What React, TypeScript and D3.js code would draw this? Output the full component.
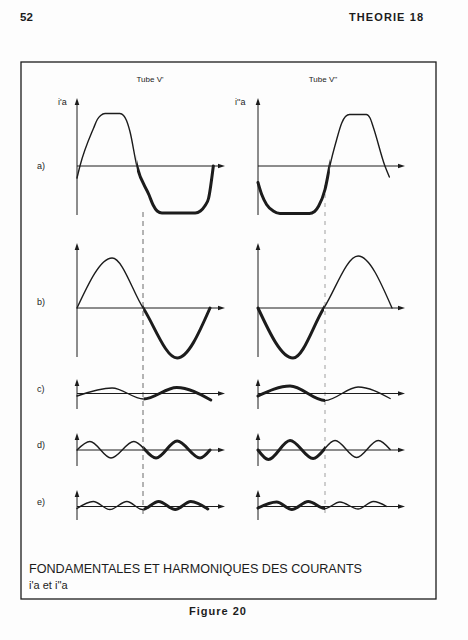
import React from 'react';
import * as d3 from 'd3';

type Pt = [number, number];

// ---- text ----
const pageNumber = '52';
const pageHeader = 'THEORIE 18';
const columnTitles = ["Tube V'", "Tube V''"];
const axisLabels = ["i'a", "i''a"];
const rowLabels = ['a)', 'b)', 'c)', 'd)', 'e)'];
const captionLine1 = 'FONDAMENTALES ET HARMONIQUES DES COURANTS';
const captionLine2 = "i'a et i''a";
const figureLabel = 'Figure 20';

// ---- data: [phase in degrees, current in relative units] ----
const leftA: Pt[] = [[0, -2.4], [8, 0], [45, 7.6], [55, 9.3], [64, 10.1], [76, 10.5], [116, 10.5], [126, 10.1], [134, 9.1], [143, 7.0], [162, 0], [195, -5.8], [206, -7.8], [217, -9.0], [230, -9.4], [320, -9.4], [334, -9.0], [346, -8.0], [356, -6.5], [369, 0]];
const rightA: Pt[] = [[0, -3.3], [10, -5.7], [23, -7.7], [41, -9.0], [59, -9.5], [138, -9.5], [152, -9.1], [163, -8.0], [180, -4.7], [193, 0], [211, 5.2], [225, 8.6], [235, 9.9], [246, 10.3], [291, 10.3], [301, 9.6], [310, 7.7], [341, 0], [353, -2.2]];
const leftB: Pt[] = [[0, 0], [95, 10], [179, 0], [271, -10], [360, 0]];
const rightB: Pt[] = [[0, 0], [94, -10], [177, 0], [269, 10.4], [360, 0]];
const leftC: Pt[] = [[0, -0.5], [95, 1.1], [180, -1.1], [270, 1.2], [362, -1.3]];
const rightC: Pt[] = [[0, -0.5], [86, 1.5], [180, -1.4], [269, 1.3], [355, -1.0]];
const leftD: Pt[] = [[0, 0], [35, 1.7], [92, -1.6], [154, 1.7], [214, -1.6], [271, 1.8], [333, -1.6], [360, 0]];
const rightD: Pt[] = [[0, 0], [28, -1.9], [86, 1.9], [148, -1.7], [207, 1.9], [265, -1.5], [323, 1.9], [355, 0.1]];
const leftE: Pt[] = [[0, -0.4], [44, 1.0], [89, -0.6], [135, 1.0], [177, -0.6], [221, 1.0], [266, -0.6], [308, 1.0], [354, -0.5]];
const rightE: Pt[] = [[0, -0.3], [50, 0.9], [91, -0.6], [135, 1.0], [180, -0.4], [220, 0.9], [269, -0.5], [310, 1.0], [346, 0]];

// phase where the trace changes from thin to thick (left) / thick to thin (right)
const leftSplit = [162, 179, 180, 180, 180];
const rightSplit = [193, 177, 180, 180, 180];

const series: Pt[][][] = [
  [leftA, leftB, leftC, leftD, leftE],
  [rightA, rightB, rightC, rightD, rightE],
];
const splits = [leftSplit, rightSplit];

// ---- layout ----
const W = 468;
const H = 640;
const INK = '#1c1c1c';
const colRange: [number, number][] = [[77, 210], [258, 392]];
const colAxisEnd = [225, 405];
const rowZero = [166, 308, 393.5, 450, 506.5];
const rowAxisTop = [98, 243, 379, 433, 490];
const rowAxisBottom = [215, 357, 409, 466, 520];
const PX_PER_UNIT = 5;

function Arrow({ x, y, dir }: { x: number; y: number; dir: 'up' | 'right' }) {
  const p = dir === 'up'
    ? `M${x},${y} L${x - 2.3},${y + 7} L${x + 2.3},${y + 7} Z`
    : `M${x},${y} L${x - 7},${y - 2.3} L${x - 7},${y + 2.3} Z`;
  return <path d={p} fill={INK} />;
}

export default function App() {
  const xScales = colRange.map((r) => d3.scaleLinear().domain([0, 360]).range(r));
  const yScales = rowZero.map((z) => d3.scaleLinear().domain([-1, 1]).range([z + PX_PER_UNIT, z - PX_PER_UNIT]));

  return (
    <svg width={W} height={H} viewBox={`0 0 ${W} ${H}`} style={{ position: 'absolute', left: 0, top: 0 }}
      fontFamily="'Liberation Sans', Arial, Helvetica, sans-serif">
      <rect x={0} y={0} width={W} height={H} fill="#fdfdfd" />
      <defs>
        {[0, 1].map((c) => rowZero.map((_, r) => {
          const sx = xScales[c](splits[c][r]);
          return (
            <React.Fragment key={`cp${c}${r}`}>
              <clipPath id={`before-${c}-${r}`}><rect x={0} y={0} width={sx} height={H} /></clipPath>
              <clipPath id={`after-${c}-${r}`}><rect x={sx} y={0} width={W - sx} height={H} /></clipPath>
            </React.Fragment>
          );
        }))}
      </defs>

      {/* page header */}
      <text x={20} y={21} fontSize={11.5} fontWeight="bold" fill={INK}
        fontFamily="'Liberation Sans Narrow', 'Liberation Sans', Arial, sans-serif">{pageNumber}</text>
      <text x={349} y={21} fontSize={11} fontWeight="bold" fill={INK} textLength={74} lengthAdjust="spacing"
        fontFamily="'Liberation Sans Narrow', 'Liberation Sans', Arial, sans-serif">{pageHeader}</text>

      {/* frame */}
      <rect x={21} y={62} width={415} height={537} fill="none" stroke={INK} strokeWidth={1.3} />

      {/* column titles and axis labels */}
      {columnTitles.map((t, c) => (
        <text key={t} x={c === 0 ? 150 : 323} y={82} fontSize={8} textAnchor="middle" fill={INK}>{t}</text>
      ))}
      {axisLabels.map((t, c) => (
        <text key={t} x={c === 0 ? 58 : 235} y={105} fontSize={9} fill={INK}>{t}</text>
      ))}

      {/* row labels */}
      {rowLabels.map((t, r) => (
        <text key={t} x={37} y={rowZero[r] + (r === 0 ? 3 : r === 1 ? -3 : -2)} fontSize={9} fill={INK}>{t}</text>
      ))}

      {/* dashed phase markers */}
      <line x1={143} x2={143} y1={212} y2={515} stroke="#444" strokeWidth={0.8} strokeDasharray="5,4" />
      <line x1={325} x2={325} y1={185} y2={517} stroke="#777" strokeWidth={0.7} strokeDasharray="4,5" />

      {[0, 1].map((c) => rowZero.map((z, r) => {
        const x0 = colRange[c][0];
        const line = d3.line<Pt>()
          .x((d) => xScales[c](d[0]))
          .y((d) => yScales[r](d[1]))
          .curve(d3.curveMonotoneX);
        const d = line(series[c][r]) || '';
        const thinBefore = c === 0;
        return (
          <g key={`p${c}${r}`}>
            {/* axes */}
            <line x1={x0} x2={x0} y1={rowAxisTop[r] + 3} y2={rowAxisBottom[r]} stroke={INK} strokeWidth={1} />
            <Arrow x={x0} y={rowAxisTop[r]} dir="up" />
            <line x1={x0} x2={colAxisEnd[c] - 3} y1={z} y2={z} stroke={INK} strokeWidth={1} />
            <Arrow x={colAxisEnd[c]} y={z} dir="right" />
            {/* traces */}
            <path d={d} fill="none" stroke={INK} strokeWidth={thinBefore ? 1.4 : 3}
              clipPath={`url(#before-${c}-${r})`} strokeLinecap="round" strokeLinejoin="round" />
            <path d={d} fill="none" stroke={INK} strokeWidth={thinBefore ? 3 : 1.4}
              clipPath={`url(#after-${c}-${r})`} strokeLinecap="round" strokeLinejoin="round" />
          </g>
        );
      }))}

      {/* caption */}
      <text x={29} y={573} fontSize={12} fill={INK} textLength={333} lengthAdjust="spacingAndGlyphs">{captionLine1}</text>
      <text x={29} y={589} fontSize={11} fill={INK}>{captionLine2}</text>
      <text x={218} y={615} fontSize={11} fontWeight="bold" textAnchor="middle" fill={INK} letterSpacing={1}
        fontFamily="'Liberation Sans Narrow', 'Liberation Sans', Arial, sans-serif">{figureLabel}</text>
    </svg>
  );
}
